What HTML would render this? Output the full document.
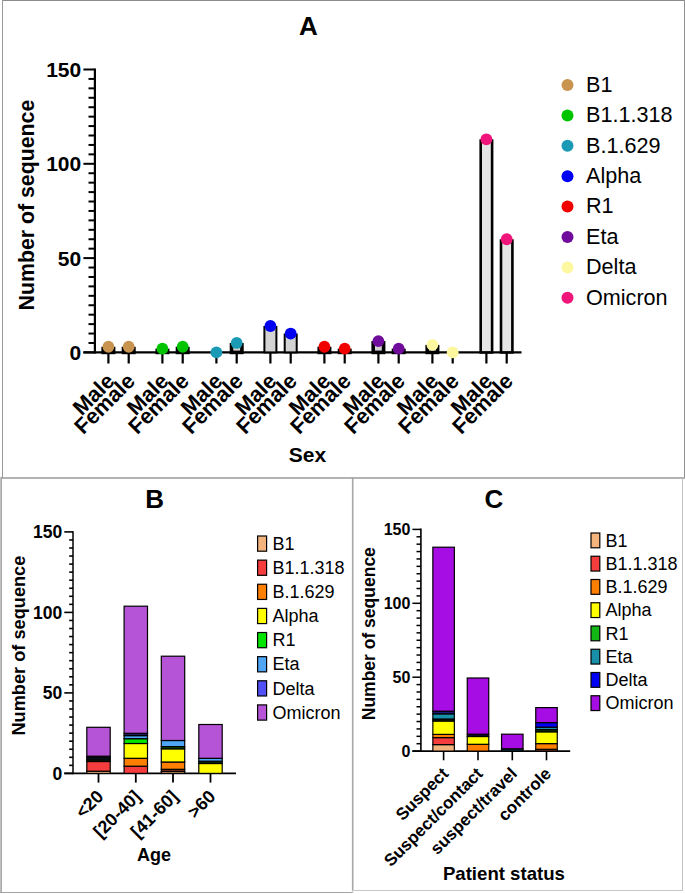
<!DOCTYPE html>
<html><head><meta charset="utf-8"><title>Figure</title>
<style>
html,body{margin:0;padding:0;background:#fff;}
body{width:685px;height:894px;overflow:hidden;}
svg{display:block;font-family:"Liberation Sans", sans-serif;}
</style></head>
<body>
<svg width="685" height="894" viewBox="0 0 685 894">
<rect x="0" y="0" width="685" height="894" fill="#fff"/>
<line x1="2.00" y1="0.50" x2="685.00" y2="0.50" stroke="#8c8c8c" stroke-width="1"/>
<line x1="2.50" y1="0.00" x2="2.50" y2="478.00" stroke="#999" stroke-width="1"/>
<line x1="684.50" y1="0.00" x2="684.50" y2="478.00" stroke="#919191" stroke-width="1"/>
<line x1="0.00" y1="477.90" x2="685.00" y2="477.90" stroke="#9a9a9a" stroke-width="1.5"/>
<line x1="0.50" y1="477.00" x2="0.50" y2="893.00" stroke="#c0c0c0" stroke-width="1"/>
<line x1="1.50" y1="477.00" x2="1.50" y2="893.00" stroke="#a8a8a8" stroke-width="1"/>
<line x1="0.00" y1="892.50" x2="353.00" y2="892.50" stroke="#a3a3a3" stroke-width="1"/>
<line x1="352.70" y1="477.00" x2="352.70" y2="891.00" stroke="#a6a6a6" stroke-width="1.6"/>
<line x1="352.60" y1="891.00" x2="352.60" y2="893.00" stroke="#c0c0c0" stroke-width="1"/>
<line x1="682.50" y1="478.00" x2="682.50" y2="891.00" stroke="#c3c3c3" stroke-width="1"/>
<line x1="352.00" y1="890.50" x2="683.00" y2="890.50" stroke="#c8c8c8" stroke-width="1"/>
<line x1="94.90" y1="68.50" x2="94.90" y2="353.50" stroke="#000" stroke-width="2.2"/>
<line x1="83.40" y1="352.40" x2="94.90" y2="352.40" stroke="#000" stroke-width="2"/>
<text x="81.20" y="359.90" font-size="21" font-weight="bold" text-anchor="end" fill="#000">0</text>
<line x1="88.50" y1="342.97" x2="94.90" y2="342.97" stroke="#000" stroke-width="2"/>
<line x1="88.50" y1="333.54" x2="94.90" y2="333.54" stroke="#000" stroke-width="2"/>
<line x1="88.50" y1="324.11" x2="94.90" y2="324.11" stroke="#000" stroke-width="2"/>
<line x1="88.50" y1="314.68" x2="94.90" y2="314.68" stroke="#000" stroke-width="2"/>
<line x1="88.50" y1="305.25" x2="94.90" y2="305.25" stroke="#000" stroke-width="2"/>
<line x1="88.50" y1="295.82" x2="94.90" y2="295.82" stroke="#000" stroke-width="2"/>
<line x1="88.50" y1="286.39" x2="94.90" y2="286.39" stroke="#000" stroke-width="2"/>
<line x1="88.50" y1="276.96" x2="94.90" y2="276.96" stroke="#000" stroke-width="2"/>
<line x1="88.50" y1="267.53" x2="94.90" y2="267.53" stroke="#000" stroke-width="2"/>
<line x1="83.40" y1="258.10" x2="94.90" y2="258.10" stroke="#000" stroke-width="2"/>
<text x="81.20" y="265.60" font-size="21" font-weight="bold" text-anchor="end" fill="#000">50</text>
<line x1="88.50" y1="248.67" x2="94.90" y2="248.67" stroke="#000" stroke-width="2"/>
<line x1="88.50" y1="239.24" x2="94.90" y2="239.24" stroke="#000" stroke-width="2"/>
<line x1="88.50" y1="229.81" x2="94.90" y2="229.81" stroke="#000" stroke-width="2"/>
<line x1="88.50" y1="220.38" x2="94.90" y2="220.38" stroke="#000" stroke-width="2"/>
<line x1="88.50" y1="210.95" x2="94.90" y2="210.95" stroke="#000" stroke-width="2"/>
<line x1="88.50" y1="201.52" x2="94.90" y2="201.52" stroke="#000" stroke-width="2"/>
<line x1="88.50" y1="192.09" x2="94.90" y2="192.09" stroke="#000" stroke-width="2"/>
<line x1="88.50" y1="182.66" x2="94.90" y2="182.66" stroke="#000" stroke-width="2"/>
<line x1="88.50" y1="173.23" x2="94.90" y2="173.23" stroke="#000" stroke-width="2"/>
<line x1="83.40" y1="163.80" x2="94.90" y2="163.80" stroke="#000" stroke-width="2"/>
<text x="81.20" y="171.30" font-size="21" font-weight="bold" text-anchor="end" fill="#000">100</text>
<line x1="88.50" y1="154.37" x2="94.90" y2="154.37" stroke="#000" stroke-width="2"/>
<line x1="88.50" y1="144.94" x2="94.90" y2="144.94" stroke="#000" stroke-width="2"/>
<line x1="88.50" y1="135.51" x2="94.90" y2="135.51" stroke="#000" stroke-width="2"/>
<line x1="88.50" y1="126.08" x2="94.90" y2="126.08" stroke="#000" stroke-width="2"/>
<line x1="88.50" y1="116.65" x2="94.90" y2="116.65" stroke="#000" stroke-width="2"/>
<line x1="88.50" y1="107.22" x2="94.90" y2="107.22" stroke="#000" stroke-width="2"/>
<line x1="88.50" y1="97.79" x2="94.90" y2="97.79" stroke="#000" stroke-width="2"/>
<line x1="88.50" y1="88.36" x2="94.90" y2="88.36" stroke="#000" stroke-width="2"/>
<line x1="88.50" y1="78.93" x2="94.90" y2="78.93" stroke="#000" stroke-width="2"/>
<line x1="83.40" y1="69.50" x2="94.90" y2="69.50" stroke="#000" stroke-width="2"/>
<text x="81.20" y="77.00" font-size="21" font-weight="bold" text-anchor="end" fill="#000">150</text>
<line x1="83.40" y1="352.40" x2="521.50" y2="352.40" stroke="#000" stroke-width="2.2"/>
<line x1="108.40" y1="352.40" x2="108.40" y2="363.50" stroke="#000" stroke-width="2.2"/>
<rect x="103.20" y="348.54" width="10.40" height="3.86" fill="#d3d3d3" stroke="#000" stroke-width="3.6"/>
<circle cx="108.40" cy="346.74" r="5.9" fill="#c8944f"/>
<text transform="translate(115.90,382.50) rotate(-45)" font-size="21.7" font-weight="bold" text-anchor="end" fill="#000">Male</text>
<line x1="128.70" y1="352.40" x2="128.70" y2="363.50" stroke="#000" stroke-width="2.2"/>
<rect x="123.50" y="348.54" width="10.40" height="3.86" fill="#d3d3d3" stroke="#000" stroke-width="3.6"/>
<circle cx="128.70" cy="346.74" r="5.9" fill="#c8944f"/>
<text transform="translate(136.20,382.50) rotate(-45)" font-size="21.7" font-weight="bold" text-anchor="end" fill="#000">Female</text>
<line x1="162.40" y1="352.40" x2="162.40" y2="363.50" stroke="#000" stroke-width="2.2"/>
<rect x="157.20" y="350.43" width="10.40" height="1.97" fill="#d3d3d3" stroke="#000" stroke-width="3.6"/>
<circle cx="162.40" cy="348.63" r="5.9" fill="#00c400"/>
<text transform="translate(169.90,382.50) rotate(-45)" font-size="21.7" font-weight="bold" text-anchor="end" fill="#000">Male</text>
<line x1="182.70" y1="352.40" x2="182.70" y2="363.50" stroke="#000" stroke-width="2.2"/>
<rect x="177.50" y="348.54" width="10.40" height="3.86" fill="#d3d3d3" stroke="#000" stroke-width="3.6"/>
<circle cx="182.70" cy="346.74" r="5.9" fill="#00c400"/>
<text transform="translate(190.20,382.50) rotate(-45)" font-size="21.7" font-weight="bold" text-anchor="end" fill="#000">Female</text>
<line x1="216.40" y1="352.40" x2="216.40" y2="363.50" stroke="#000" stroke-width="2.2"/>
<circle cx="216.40" cy="352.40" r="5.9" fill="#1a9ab4"/>
<text transform="translate(223.90,382.50) rotate(-45)" font-size="21.7" font-weight="bold" text-anchor="end" fill="#000">Male</text>
<line x1="236.70" y1="352.40" x2="236.70" y2="363.50" stroke="#000" stroke-width="2.2"/>
<rect x="231.50" y="344.77" width="10.40" height="7.63" fill="#d3d3d3" stroke="#000" stroke-width="3.6"/>
<circle cx="236.70" cy="342.97" r="5.9" fill="#1a9ab4"/>
<text transform="translate(244.20,382.50) rotate(-45)" font-size="21.7" font-weight="bold" text-anchor="end" fill="#000">Female</text>
<line x1="270.40" y1="352.40" x2="270.40" y2="363.50" stroke="#000" stroke-width="2.2"/>
<rect x="264.40" y="327.00" width="12.00" height="25.40" fill="#d3d3d3" stroke="#000" stroke-width="2"/>
<circle cx="270.40" cy="326.00" r="5.9" fill="#0000f2"/>
<text transform="translate(277.90,382.50) rotate(-45)" font-size="21.7" font-weight="bold" text-anchor="end" fill="#000">Male</text>
<line x1="290.70" y1="352.40" x2="290.70" y2="363.50" stroke="#000" stroke-width="2.2"/>
<rect x="284.70" y="334.54" width="12.00" height="17.86" fill="#d3d3d3" stroke="#000" stroke-width="2"/>
<circle cx="290.70" cy="333.54" r="5.9" fill="#0000f2"/>
<text transform="translate(298.20,382.50) rotate(-45)" font-size="21.7" font-weight="bold" text-anchor="end" fill="#000">Female</text>
<line x1="324.40" y1="352.40" x2="324.40" y2="363.50" stroke="#000" stroke-width="2.2"/>
<rect x="319.20" y="348.54" width="10.40" height="3.86" fill="#d3d3d3" stroke="#000" stroke-width="3.6"/>
<circle cx="324.40" cy="346.74" r="5.9" fill="#f20000"/>
<text transform="translate(331.90,382.50) rotate(-45)" font-size="21.7" font-weight="bold" text-anchor="end" fill="#000">Male</text>
<line x1="344.70" y1="352.40" x2="344.70" y2="363.50" stroke="#000" stroke-width="2.2"/>
<rect x="339.50" y="350.43" width="10.40" height="1.97" fill="#d3d3d3" stroke="#000" stroke-width="3.6"/>
<circle cx="344.70" cy="348.63" r="5.9" fill="#f20000"/>
<text transform="translate(352.20,382.50) rotate(-45)" font-size="21.7" font-weight="bold" text-anchor="end" fill="#000">Female</text>
<line x1="378.40" y1="352.40" x2="378.40" y2="363.50" stroke="#000" stroke-width="2.2"/>
<rect x="373.20" y="342.88" width="10.40" height="9.52" fill="#d3d3d3" stroke="#000" stroke-width="3.6"/>
<circle cx="378.40" cy="341.08" r="5.9" fill="#700c9c"/>
<text transform="translate(385.90,382.50) rotate(-45)" font-size="21.7" font-weight="bold" text-anchor="end" fill="#000">Male</text>
<line x1="398.70" y1="352.40" x2="398.70" y2="363.50" stroke="#000" stroke-width="2.2"/>
<rect x="393.50" y="350.43" width="10.40" height="1.97" fill="#d3d3d3" stroke="#000" stroke-width="3.6"/>
<circle cx="398.70" cy="348.63" r="5.9" fill="#700c9c"/>
<text transform="translate(406.20,382.50) rotate(-45)" font-size="21.7" font-weight="bold" text-anchor="end" fill="#000">Female</text>
<line x1="432.40" y1="352.40" x2="432.40" y2="363.50" stroke="#000" stroke-width="2.2"/>
<rect x="427.20" y="346.66" width="10.40" height="5.74" fill="#d3d3d3" stroke="#000" stroke-width="3.6"/>
<circle cx="432.40" cy="344.86" r="5.9" fill="#fdf8a0"/>
<text transform="translate(439.90,382.50) rotate(-45)" font-size="21.7" font-weight="bold" text-anchor="end" fill="#000">Male</text>
<line x1="452.70" y1="352.40" x2="452.70" y2="363.50" stroke="#000" stroke-width="2.2"/>
<circle cx="452.70" cy="352.40" r="5.9" fill="#fdf8a0"/>
<text transform="translate(460.20,382.50) rotate(-45)" font-size="21.7" font-weight="bold" text-anchor="end" fill="#000">Female</text>
<line x1="486.40" y1="352.40" x2="486.40" y2="363.50" stroke="#000" stroke-width="2.2"/>
<rect x="480.70" y="140.58" width="11.40" height="211.82" fill="#e5e5e5" stroke="#000" stroke-width="2.6"/>
<circle cx="486.40" cy="139.28" r="5.9" fill="#f0157a"/>
<text transform="translate(493.90,382.50) rotate(-45)" font-size="21.7" font-weight="bold" text-anchor="end" fill="#000">Male</text>
<line x1="506.70" y1="352.40" x2="506.70" y2="363.50" stroke="#000" stroke-width="2.2"/>
<rect x="501.00" y="240.54" width="11.40" height="111.86" fill="#e5e5e5" stroke="#000" stroke-width="2.6"/>
<circle cx="506.70" cy="239.24" r="5.9" fill="#f0157a"/>
<text transform="translate(514.20,382.50) rotate(-45)" font-size="21.7" font-weight="bold" text-anchor="end" fill="#000">Female</text>
<circle cx="567.50" cy="85.00" r="6" fill="#c8944f"/>
<text x="586.00" y="91.80" font-size="21.6" font-weight="normal" text-anchor="start" fill="#000">B1</text>
<circle cx="567.50" cy="115.40" r="6" fill="#00c400"/>
<text x="586.00" y="122.20" font-size="21.6" font-weight="normal" text-anchor="start" fill="#000">B1.1.318</text>
<circle cx="567.50" cy="145.80" r="6" fill="#1a9ab4"/>
<text x="586.00" y="152.60" font-size="21.6" font-weight="normal" text-anchor="start" fill="#000">B.1.629</text>
<circle cx="567.50" cy="176.20" r="6" fill="#0000f2"/>
<text x="586.00" y="183.00" font-size="21.6" font-weight="normal" text-anchor="start" fill="#000">Alpha</text>
<circle cx="567.50" cy="206.60" r="6" fill="#f20000"/>
<text x="586.00" y="213.40" font-size="21.6" font-weight="normal" text-anchor="start" fill="#000">R1</text>
<circle cx="567.50" cy="237.00" r="6" fill="#700c9c"/>
<text x="586.00" y="243.80" font-size="21.6" font-weight="normal" text-anchor="start" fill="#000">Eta</text>
<circle cx="567.50" cy="267.40" r="6" fill="#fdf8a0"/>
<text x="586.00" y="274.20" font-size="21.6" font-weight="normal" text-anchor="start" fill="#000">Delta</text>
<circle cx="567.50" cy="297.80" r="6" fill="#f0157a"/>
<text x="586.00" y="304.60" font-size="21.6" font-weight="normal" text-anchor="start" fill="#000">Omicron</text>
<text x="308.30" y="35.20" font-size="26" font-weight="bold" text-anchor="middle" fill="#000">A</text>
<text x="307.50" y="461.50" font-size="21" font-weight="bold" text-anchor="middle" fill="#000">Sex</text>
<text transform="translate(34.20,205.10) rotate(-90)" font-size="21.3" font-weight="bold" text-anchor="middle" fill="#000">Number of sequence</text>
<line x1="73.00" y1="531.20" x2="73.00" y2="774.20" stroke="#000" stroke-width="1.5"/>
<line x1="64.30" y1="773.40" x2="73.00" y2="773.40" stroke="#000" stroke-width="1.6"/>
<text x="62.20" y="779.70" font-size="17.5" font-weight="bold" text-anchor="end" fill="#000">0</text>
<line x1="69.20" y1="765.35" x2="73.00" y2="765.35" stroke="#000" stroke-width="1.6"/>
<line x1="69.20" y1="757.30" x2="73.00" y2="757.30" stroke="#000" stroke-width="1.6"/>
<line x1="69.20" y1="749.25" x2="73.00" y2="749.25" stroke="#000" stroke-width="1.6"/>
<line x1="69.20" y1="741.20" x2="73.00" y2="741.20" stroke="#000" stroke-width="1.6"/>
<line x1="69.20" y1="733.15" x2="73.00" y2="733.15" stroke="#000" stroke-width="1.6"/>
<line x1="69.20" y1="725.10" x2="73.00" y2="725.10" stroke="#000" stroke-width="1.6"/>
<line x1="69.20" y1="717.05" x2="73.00" y2="717.05" stroke="#000" stroke-width="1.6"/>
<line x1="69.20" y1="709.00" x2="73.00" y2="709.00" stroke="#000" stroke-width="1.6"/>
<line x1="69.20" y1="700.95" x2="73.00" y2="700.95" stroke="#000" stroke-width="1.6"/>
<line x1="64.30" y1="692.90" x2="73.00" y2="692.90" stroke="#000" stroke-width="1.6"/>
<text x="62.20" y="699.20" font-size="17.5" font-weight="bold" text-anchor="end" fill="#000">50</text>
<line x1="69.20" y1="684.85" x2="73.00" y2="684.85" stroke="#000" stroke-width="1.6"/>
<line x1="69.20" y1="676.80" x2="73.00" y2="676.80" stroke="#000" stroke-width="1.6"/>
<line x1="69.20" y1="668.75" x2="73.00" y2="668.75" stroke="#000" stroke-width="1.6"/>
<line x1="69.20" y1="660.70" x2="73.00" y2="660.70" stroke="#000" stroke-width="1.6"/>
<line x1="69.20" y1="652.65" x2="73.00" y2="652.65" stroke="#000" stroke-width="1.6"/>
<line x1="69.20" y1="644.60" x2="73.00" y2="644.60" stroke="#000" stroke-width="1.6"/>
<line x1="69.20" y1="636.55" x2="73.00" y2="636.55" stroke="#000" stroke-width="1.6"/>
<line x1="69.20" y1="628.50" x2="73.00" y2="628.50" stroke="#000" stroke-width="1.6"/>
<line x1="69.20" y1="620.45" x2="73.00" y2="620.45" stroke="#000" stroke-width="1.6"/>
<line x1="64.30" y1="612.40" x2="73.00" y2="612.40" stroke="#000" stroke-width="1.6"/>
<text x="62.20" y="618.70" font-size="17.5" font-weight="bold" text-anchor="end" fill="#000">100</text>
<line x1="69.20" y1="604.35" x2="73.00" y2="604.35" stroke="#000" stroke-width="1.6"/>
<line x1="69.20" y1="596.30" x2="73.00" y2="596.30" stroke="#000" stroke-width="1.6"/>
<line x1="69.20" y1="588.25" x2="73.00" y2="588.25" stroke="#000" stroke-width="1.6"/>
<line x1="69.20" y1="580.20" x2="73.00" y2="580.20" stroke="#000" stroke-width="1.6"/>
<line x1="69.20" y1="572.15" x2="73.00" y2="572.15" stroke="#000" stroke-width="1.6"/>
<line x1="69.20" y1="564.10" x2="73.00" y2="564.10" stroke="#000" stroke-width="1.6"/>
<line x1="69.20" y1="556.05" x2="73.00" y2="556.05" stroke="#000" stroke-width="1.6"/>
<line x1="69.20" y1="548.00" x2="73.00" y2="548.00" stroke="#000" stroke-width="1.6"/>
<line x1="69.20" y1="539.95" x2="73.00" y2="539.95" stroke="#000" stroke-width="1.6"/>
<line x1="64.30" y1="531.90" x2="73.00" y2="531.90" stroke="#000" stroke-width="1.6"/>
<text x="62.20" y="538.20" font-size="17.5" font-weight="bold" text-anchor="end" fill="#000">150</text>
<line x1="64.30" y1="773.40" x2="236.00" y2="773.40" stroke="#000" stroke-width="1.7"/>
<line x1="98.50" y1="773.40" x2="98.50" y2="782.60" stroke="#000" stroke-width="1.8"/>
<rect x="86.80" y="771.20" width="23.40" height="2.20" fill="#f2b47c" stroke="#000" stroke-width="1.2"/>
<rect x="86.80" y="761.50" width="23.40" height="9.70" fill="#f53d3d" stroke="#000" stroke-width="1.2"/>
<rect x="86.80" y="759.90" width="23.40" height="1.60" fill="#4a4a0a" stroke="#000" stroke-width="1.2"/>
<rect x="86.80" y="757.80" width="23.40" height="2.10" fill="#122436" stroke="#000" stroke-width="1.2"/>
<rect x="86.80" y="756.20" width="23.40" height="1.60" fill="#1c2160" stroke="#000" stroke-width="1.2"/>
<rect x="86.80" y="727.30" width="23.40" height="28.90" fill="#b554d6" stroke="#000" stroke-width="1.2"/>
<text transform="translate(104.50,797.70) rotate(-45)" font-size="18" font-weight="bold" text-anchor="end" fill="#000">&lt;20</text>
<line x1="135.80" y1="773.40" x2="135.80" y2="782.60" stroke="#000" stroke-width="1.8"/>
<rect x="124.10" y="766.20" width="23.40" height="7.20" fill="#f53d3d" stroke="#000" stroke-width="1.2"/>
<rect x="124.10" y="758.30" width="23.40" height="7.90" fill="#ff7f00" stroke="#000" stroke-width="1.2"/>
<rect x="124.10" y="743.50" width="23.40" height="14.80" fill="#ffff00" stroke="#000" stroke-width="1.2"/>
<rect x="124.10" y="738.70" width="23.40" height="4.80" fill="#00e600" stroke="#000" stroke-width="1.2"/>
<rect x="124.10" y="735.60" width="23.40" height="3.10" fill="#4ea6f5" stroke="#000" stroke-width="1.2"/>
<rect x="124.10" y="733.30" width="23.40" height="2.30" fill="#1c2160" stroke="#000" stroke-width="1.2"/>
<rect x="124.10" y="606.20" width="23.40" height="127.10" fill="#b554d6" stroke="#000" stroke-width="1.2"/>
<text transform="translate(141.80,797.70) rotate(-45)" font-size="18" font-weight="bold" text-anchor="end" fill="#000">[20-40]</text>
<line x1="173.00" y1="773.40" x2="173.00" y2="782.60" stroke="#000" stroke-width="1.8"/>
<rect x="161.30" y="771.50" width="23.40" height="1.90" fill="#f2b47c" stroke="#000" stroke-width="1.2"/>
<rect x="161.30" y="769.30" width="23.40" height="2.20" fill="#7a2a20" stroke="#000" stroke-width="1.2"/>
<rect x="161.30" y="762.00" width="23.40" height="7.30" fill="#ff7f00" stroke="#000" stroke-width="1.2"/>
<rect x="161.30" y="748.80" width="23.40" height="13.20" fill="#ffff00" stroke="#000" stroke-width="1.2"/>
<rect x="161.30" y="746.60" width="23.40" height="2.20" fill="#0a5a0a" stroke="#000" stroke-width="1.2"/>
<rect x="161.30" y="740.50" width="23.40" height="6.10" fill="#4ea6f5" stroke="#000" stroke-width="1.2"/>
<rect x="161.30" y="656.20" width="23.40" height="84.30" fill="#b554d6" stroke="#000" stroke-width="1.2"/>
<text transform="translate(179.00,797.70) rotate(-45)" font-size="18" font-weight="bold" text-anchor="end" fill="#000">[41-60]</text>
<line x1="210.50" y1="773.40" x2="210.50" y2="782.60" stroke="#000" stroke-width="1.8"/>
<rect x="198.80" y="763.50" width="23.40" height="9.90" fill="#ffff00" stroke="#000" stroke-width="1.2"/>
<rect x="198.80" y="761.20" width="23.40" height="2.30" fill="#062a06" stroke="#000" stroke-width="1.2"/>
<rect x="198.80" y="758.30" width="23.40" height="2.90" fill="#4ea6f5" stroke="#000" stroke-width="1.2"/>
<rect x="198.80" y="724.50" width="23.40" height="33.80" fill="#b554d6" stroke="#000" stroke-width="1.2"/>
<text transform="translate(216.50,797.70) rotate(-45)" font-size="18" font-weight="bold" text-anchor="end" fill="#000">&gt;60</text>
<rect x="257.60" y="536.00" width="9.00" height="15.20" fill="#f2b47c" stroke="#000" stroke-width="1.2"/>
<text x="272.50" y="549.80" font-size="18" font-weight="normal" text-anchor="start" fill="#000">B1</text>
<rect x="257.60" y="560.13" width="9.00" height="15.20" fill="#f53d3d" stroke="#000" stroke-width="1.2"/>
<text x="272.50" y="573.93" font-size="18" font-weight="normal" text-anchor="start" fill="#000">B1.1.318</text>
<rect x="257.60" y="584.26" width="9.00" height="15.20" fill="#ff7f00" stroke="#000" stroke-width="1.2"/>
<text x="272.50" y="598.06" font-size="18" font-weight="normal" text-anchor="start" fill="#000">B.1.629</text>
<rect x="257.60" y="608.39" width="9.00" height="15.20" fill="#ffff00" stroke="#000" stroke-width="1.2"/>
<text x="272.50" y="622.19" font-size="18" font-weight="normal" text-anchor="start" fill="#000">Alpha</text>
<rect x="257.60" y="632.52" width="9.00" height="15.20" fill="#00e600" stroke="#000" stroke-width="1.2"/>
<text x="272.50" y="646.32" font-size="18" font-weight="normal" text-anchor="start" fill="#000">R1</text>
<rect x="257.60" y="656.65" width="9.00" height="15.20" fill="#4ea6f5" stroke="#000" stroke-width="1.2"/>
<text x="272.50" y="670.45" font-size="18" font-weight="normal" text-anchor="start" fill="#000">Eta</text>
<rect x="257.60" y="680.78" width="9.00" height="15.20" fill="#5050f5" stroke="#000" stroke-width="1.2"/>
<text x="272.50" y="694.58" font-size="18" font-weight="normal" text-anchor="start" fill="#000">Delta</text>
<rect x="257.60" y="704.91" width="9.00" height="15.20" fill="#b554d6" stroke="#000" stroke-width="1.2"/>
<text x="272.50" y="718.71" font-size="18" font-weight="normal" text-anchor="start" fill="#000">Omicron</text>
<text x="154.60" y="507.90" font-size="26" font-weight="bold" text-anchor="middle" fill="#000">B</text>
<text x="154.00" y="860.80" font-size="18" font-weight="bold" text-anchor="middle" fill="#000">Age</text>
<text transform="translate(24.70,645.60) rotate(-90)" font-size="18.2" font-weight="bold" text-anchor="middle" fill="#000">Number of sequence</text>
<line x1="420.90" y1="528.60" x2="420.90" y2="752.10" stroke="#000" stroke-width="1.6"/>
<line x1="412.40" y1="751.10" x2="420.90" y2="751.10" stroke="#000" stroke-width="1.5"/>
<text x="410.40" y="756.90" font-size="16" font-weight="bold" text-anchor="end" fill="#000">0</text>
<line x1="416.50" y1="743.71" x2="420.90" y2="743.71" stroke="#000" stroke-width="1.5"/>
<line x1="416.50" y1="736.32" x2="420.90" y2="736.32" stroke="#000" stroke-width="1.5"/>
<line x1="416.50" y1="728.93" x2="420.90" y2="728.93" stroke="#000" stroke-width="1.5"/>
<line x1="416.50" y1="721.54" x2="420.90" y2="721.54" stroke="#000" stroke-width="1.5"/>
<line x1="416.50" y1="714.15" x2="420.90" y2="714.15" stroke="#000" stroke-width="1.5"/>
<line x1="416.50" y1="706.76" x2="420.90" y2="706.76" stroke="#000" stroke-width="1.5"/>
<line x1="416.50" y1="699.37" x2="420.90" y2="699.37" stroke="#000" stroke-width="1.5"/>
<line x1="416.50" y1="691.98" x2="420.90" y2="691.98" stroke="#000" stroke-width="1.5"/>
<line x1="416.50" y1="684.59" x2="420.90" y2="684.59" stroke="#000" stroke-width="1.5"/>
<line x1="412.40" y1="677.20" x2="420.90" y2="677.20" stroke="#000" stroke-width="1.5"/>
<text x="410.40" y="683.00" font-size="16" font-weight="bold" text-anchor="end" fill="#000">50</text>
<line x1="416.50" y1="669.81" x2="420.90" y2="669.81" stroke="#000" stroke-width="1.5"/>
<line x1="416.50" y1="662.42" x2="420.90" y2="662.42" stroke="#000" stroke-width="1.5"/>
<line x1="416.50" y1="655.03" x2="420.90" y2="655.03" stroke="#000" stroke-width="1.5"/>
<line x1="416.50" y1="647.64" x2="420.90" y2="647.64" stroke="#000" stroke-width="1.5"/>
<line x1="416.50" y1="640.25" x2="420.90" y2="640.25" stroke="#000" stroke-width="1.5"/>
<line x1="416.50" y1="632.86" x2="420.90" y2="632.86" stroke="#000" stroke-width="1.5"/>
<line x1="416.50" y1="625.47" x2="420.90" y2="625.47" stroke="#000" stroke-width="1.5"/>
<line x1="416.50" y1="618.08" x2="420.90" y2="618.08" stroke="#000" stroke-width="1.5"/>
<line x1="416.50" y1="610.69" x2="420.90" y2="610.69" stroke="#000" stroke-width="1.5"/>
<line x1="412.40" y1="603.30" x2="420.90" y2="603.30" stroke="#000" stroke-width="1.5"/>
<text x="410.40" y="609.10" font-size="16" font-weight="bold" text-anchor="end" fill="#000">100</text>
<line x1="416.50" y1="595.91" x2="420.90" y2="595.91" stroke="#000" stroke-width="1.5"/>
<line x1="416.50" y1="588.52" x2="420.90" y2="588.52" stroke="#000" stroke-width="1.5"/>
<line x1="416.50" y1="581.13" x2="420.90" y2="581.13" stroke="#000" stroke-width="1.5"/>
<line x1="416.50" y1="573.74" x2="420.90" y2="573.74" stroke="#000" stroke-width="1.5"/>
<line x1="416.50" y1="566.35" x2="420.90" y2="566.35" stroke="#000" stroke-width="1.5"/>
<line x1="416.50" y1="558.96" x2="420.90" y2="558.96" stroke="#000" stroke-width="1.5"/>
<line x1="416.50" y1="551.57" x2="420.90" y2="551.57" stroke="#000" stroke-width="1.5"/>
<line x1="416.50" y1="544.18" x2="420.90" y2="544.18" stroke="#000" stroke-width="1.5"/>
<line x1="416.50" y1="536.79" x2="420.90" y2="536.79" stroke="#000" stroke-width="1.5"/>
<line x1="412.40" y1="529.40" x2="420.90" y2="529.40" stroke="#000" stroke-width="1.5"/>
<text x="410.40" y="535.20" font-size="16" font-weight="bold" text-anchor="end" fill="#000">150</text>
<line x1="412.40" y1="751.10" x2="570.20" y2="751.10" stroke="#000" stroke-width="1.6"/>
<line x1="443.60" y1="751.10" x2="443.60" y2="760.30" stroke="#000" stroke-width="1.6"/>
<rect x="432.85" y="744.60" width="21.50" height="6.50" fill="#f2b47c" stroke="#000" stroke-width="1.2"/>
<rect x="432.85" y="737.60" width="21.50" height="7.00" fill="#f53d3d" stroke="#000" stroke-width="1.2"/>
<rect x="432.85" y="734.40" width="21.50" height="3.20" fill="#ff7f00" stroke="#000" stroke-width="1.2"/>
<rect x="432.85" y="721.00" width="21.50" height="13.40" fill="#ffff00" stroke="#000" stroke-width="1.2"/>
<rect x="432.85" y="719.00" width="21.50" height="2.00" fill="#0a200a" stroke="#000" stroke-width="1.2"/>
<rect x="432.85" y="713.80" width="21.50" height="5.20" fill="#1890a8" stroke="#000" stroke-width="1.2"/>
<rect x="432.85" y="711.20" width="21.50" height="2.60" fill="#1a1a80" stroke="#000" stroke-width="1.2"/>
<rect x="432.85" y="547.20" width="21.50" height="164.00" fill="#a60ce4" stroke="#000" stroke-width="1.2"/>
<text transform="translate(449.40,774.70) rotate(-45)" font-size="17" font-weight="bold" text-anchor="end" fill="#000">Suspect</text>
<line x1="478.00" y1="751.10" x2="478.00" y2="760.30" stroke="#000" stroke-width="1.6"/>
<rect x="467.25" y="744.30" width="21.50" height="6.80" fill="#ff7f00" stroke="#000" stroke-width="1.2"/>
<rect x="467.25" y="736.50" width="21.50" height="7.80" fill="#ffff00" stroke="#000" stroke-width="1.2"/>
<rect x="467.25" y="734.20" width="21.50" height="2.30" fill="#0c0c30" stroke="#000" stroke-width="1.2"/>
<rect x="467.25" y="678.00" width="21.50" height="56.20" fill="#a60ce4" stroke="#000" stroke-width="1.2"/>
<text transform="translate(483.80,774.70) rotate(-45)" font-size="17" font-weight="bold" text-anchor="end" fill="#000">Suspect/contact</text>
<line x1="512.30" y1="751.10" x2="512.30" y2="760.30" stroke="#000" stroke-width="1.6"/>
<rect x="501.55" y="748.80" width="21.50" height="2.30" fill="#0a3a48" stroke="#000" stroke-width="1.2"/>
<rect x="501.55" y="734.20" width="21.50" height="14.60" fill="#a60ce4" stroke="#000" stroke-width="1.2"/>
<text transform="translate(518.10,774.70) rotate(-45)" font-size="17" font-weight="bold" text-anchor="end" fill="#000">suspect/travel</text>
<line x1="546.50" y1="751.10" x2="546.50" y2="760.30" stroke="#000" stroke-width="1.6"/>
<rect x="535.75" y="749.30" width="21.50" height="1.80" fill="#8c4030" stroke="#000" stroke-width="1.2"/>
<rect x="535.75" y="743.60" width="21.50" height="5.70" fill="#ff7f00" stroke="#000" stroke-width="1.2"/>
<rect x="535.75" y="731.80" width="21.50" height="11.80" fill="#ffff00" stroke="#000" stroke-width="1.2"/>
<rect x="535.75" y="729.60" width="21.50" height="2.20" fill="#0a3a0a" stroke="#000" stroke-width="1.2"/>
<rect x="535.75" y="727.20" width="21.50" height="2.40" fill="#1890a8" stroke="#000" stroke-width="1.2"/>
<rect x="535.75" y="722.60" width="21.50" height="4.60" fill="#0000f5" stroke="#000" stroke-width="1.2"/>
<rect x="535.75" y="707.60" width="21.50" height="15.00" fill="#a60ce4" stroke="#000" stroke-width="1.2"/>
<text transform="translate(552.30,774.70) rotate(-45)" font-size="17" font-weight="bold" text-anchor="end" fill="#000">controle</text>
<rect x="591.00" y="533.00" width="8.80" height="14.80" fill="#f2b47c" stroke="#000" stroke-width="1.2"/>
<text x="605.40" y="546.60" font-size="18" font-weight="normal" text-anchor="start" fill="#000">B1</text>
<rect x="591.00" y="556.25" width="8.80" height="14.80" fill="#f53d3d" stroke="#000" stroke-width="1.2"/>
<text x="605.40" y="569.85" font-size="18" font-weight="normal" text-anchor="start" fill="#000">B1.1.318</text>
<rect x="591.00" y="579.50" width="8.80" height="14.80" fill="#ff7f00" stroke="#000" stroke-width="1.2"/>
<text x="605.40" y="593.10" font-size="18" font-weight="normal" text-anchor="start" fill="#000">B.1.629</text>
<rect x="591.00" y="602.75" width="8.80" height="14.80" fill="#ffff00" stroke="#000" stroke-width="1.2"/>
<text x="605.40" y="616.35" font-size="18" font-weight="normal" text-anchor="start" fill="#000">Alpha</text>
<rect x="591.00" y="626.00" width="8.80" height="14.80" fill="#14b814" stroke="#000" stroke-width="1.2"/>
<text x="605.40" y="639.60" font-size="18" font-weight="normal" text-anchor="start" fill="#000">R1</text>
<rect x="591.00" y="649.25" width="8.80" height="14.80" fill="#1890a8" stroke="#000" stroke-width="1.2"/>
<text x="605.40" y="662.85" font-size="18" font-weight="normal" text-anchor="start" fill="#000">Eta</text>
<rect x="591.00" y="672.50" width="8.80" height="14.80" fill="#0000f5" stroke="#000" stroke-width="1.2"/>
<text x="605.40" y="686.10" font-size="18" font-weight="normal" text-anchor="start" fill="#000">Delta</text>
<rect x="591.00" y="695.75" width="8.80" height="14.80" fill="#a60ce4" stroke="#000" stroke-width="1.2"/>
<text x="605.40" y="709.35" font-size="18" font-weight="normal" text-anchor="start" fill="#000">Omicron</text>
<text x="494.00" y="508.00" font-size="26" font-weight="bold" text-anchor="middle" fill="#000">C</text>
<text x="503.90" y="879.50" font-size="18.6" font-weight="bold" text-anchor="middle" fill="#000">Patient status</text>
<text transform="translate(375.30,633.70) rotate(-90)" font-size="17.5" font-weight="bold" text-anchor="middle" fill="#000">Number of sequence</text>
</svg>
</body></html>
